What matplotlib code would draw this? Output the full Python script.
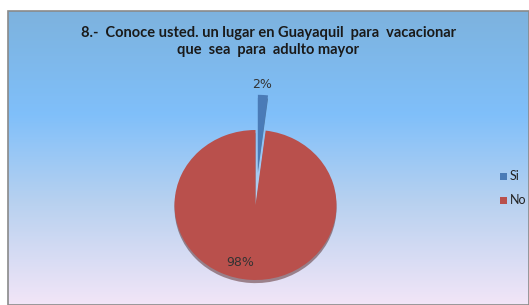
import numpy as np
import matplotlib
matplotlib.use("Agg")
import matplotlib.pyplot as plt
from matplotlib.colors import LinearSegmentedColormap
from matplotlib.patches import Rectangle

categories = ["Si", "No"]
values = [2, 98]
colors = ["#4a7bb7", "#b9504c"]
title = "8.-  Conoce usted. un lugar en Guayaquil  para  vacacionar\nque  sea  para  adulto mayor"

W, H = 529, 305
fig = plt.figure(figsize=(W / 100, H / 100), dpi=100)
fig.patch.set_facecolor("white")

# gradient background of chart area
L, T = 8, 11
bg = fig.add_axes([L / W, 0, 1 - L / W, 1 - T / H])
bg.set_axis_off()
cmap = LinearSegmentedColormap.from_list(
    "bg",
    [(0.0, (0.49, 0.70, 0.87)), (0.35, (0.50, 0.75, 0.98)),
     (0.65, (0.72, 0.82, 0.94)), (1.0, (0.95, 0.90, 0.97))])
grad = np.linspace(0, 1, 256).reshape(-1, 1)
bg.imshow(grad, aspect="auto", cmap=cmap, extent=[0, 1, 0, 1], origin="upper")
bg.set_xlim(0, 1)
bg.set_ylim(0, 1)
bg.add_patch(Rectangle((0, 0), 1, 1, fill=False, edgecolor="#8a8a8a",
                       linewidth=1.2, transform=bg.transAxes, clip_on=False))

# pie axes (slightly elliptical)
cx, cy = 255.5, 305 - 205
rx, ry = 81, 75
span = 1.6
aw, ah = 2 * span * rx, 2 * span * ry
ax = fig.add_axes([(cx - aw / 2) / W, (cy - ah / 2) / H, aw / W, ah / H])
ax.set_axis_off()
wedges, texts, autotexts = ax.pie(
    values, colors=colors, startangle=90, counterclock=False,
    explode=[0.47, 0], radius=1, autopct="%1.0f%%",
    shadow={"ox": 0.0, "oy": -0.03, "shade": 0.55},
    textprops=dict(fontsize=9, color="#333333"),
    wedgeprops=dict(linewidth=0))
for p in ax.patches:
    p.set_clip_on(False)
ax.set_aspect("auto")
ax.set_xlim(-span, span)
ax.set_ylim(-span, span)
autotexts[0].set_position((0.08, 1.61))
autotexts[1].set_position((-0.19, -0.77))

fig.text(0.507, 1 - 41.5 / H, title, ha="center", va="center",
         fontsize=10.5, fontweight="bold", family="Lato",
         color="#1a1a1a", linespacing=1.3)

# legend
for i, (c, lab) in enumerate(zip(colors, categories)):
    y = 176 + i * 24
    fig.patches.append(Rectangle((500 / W, 1 - (y + 3.5) / H), 7 / W, 7 / H,
                                 transform=fig.transFigure, facecolor=c,
                                 edgecolor="none"))
    fig.text(510 / W, 1 - y / H, lab, ha="left", va="center",
             fontsize=9, color="#222222", family="Lato")

fig.savefig("out.png", dpi=100)
